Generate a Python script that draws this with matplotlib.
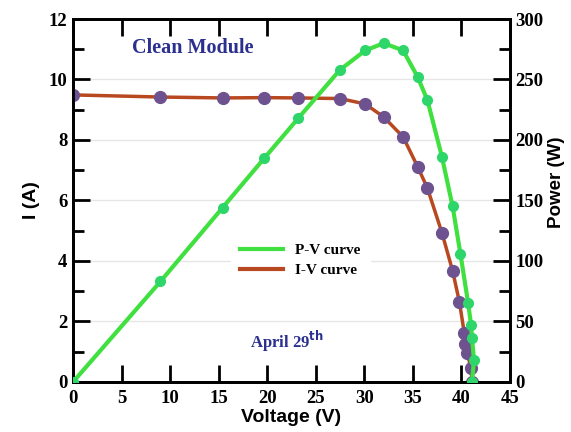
import numpy as np
import matplotlib.pyplot as plt
from matplotlib.ticker import MultipleLocator

# I-V curve
v_iv = [0, 9.0, 15.4, 19.7, 23.2, 27.5, 30.1, 32.0, 34.0, 35.5, 36.5, 38.0,
        39.1, 39.8, 40.3, 40.4, 40.6, 41.0, 41.1]
i_iv = [9.49, 9.42, 9.39, 9.40, 9.39, 9.37, 9.19, 8.76, 8.10, 7.11, 6.41, 4.93,
        3.67, 2.64, 1.62, 1.25, 0.95, 0.45, 0.0]

# P-V curve
v_pv = [0, 9.0, 15.4, 19.7, 23.2, 27.5, 30.1, 32.0, 34.0, 35.5, 36.5, 38.0,
        39.1, 39.9, 40.7, 41.0, 41.1, 41.3, 41.1]
p_pv = [0, 83, 144, 185, 218, 258, 274, 280, 274, 252, 233, 186,
        145, 106, 65, 47, 36, 18, 0]

SERIF = "Liberation Serif"
SANS = "Liberation Sans"

fig = plt.figure(figsize=(5.71, 4.32), dpi=100)
ax1 = fig.add_axes([0.128, 0.116, 0.765, 0.840])
ax2 = ax1.twinx()

ax1.plot(v_iv, i_iv, color="#b8481f", lw=2.5, marker="o", ms=8.5,
         mfc="#6e5290", mec="#6e5290", zorder=3, label="I-V curve")
ax2.plot(v_pv, p_pv, color="#3fe03f", lw=3, marker="o", ms=7,
         mfc="#2ed66a", mec="#2ed66a", zorder=3, label="P-V curve")

ax1.set_xlim(0, 45)
ax1.set_ylim(0, 12)
ax2.set_ylim(0, 300)

ax1.xaxis.set_major_locator(MultipleLocator(5))
ax1.yaxis.set_major_locator(MultipleLocator(2))
ax1.yaxis.set_minor_locator(MultipleLocator(1))
ax2.yaxis.set_major_locator(MultipleLocator(50))
ax2.yaxis.set_minor_locator(MultipleLocator(25))

ax1.grid(axis="y", which="major", color="#e6e6e6", lw=1)
ax1.set_axisbelow(True)

ax1.tick_params(axis="x", which="major", direction="in", length=12, width=2,
                top=True, pad=6)
ax1.tick_params(axis="y", which="major", direction="in", length=12, width=2, pad=4)
ax1.tick_params(axis="y", which="minor", direction="in", length=8, width=2)
ax2.tick_params(axis="y", which="major", direction="in", length=12, width=2, pad=4)
ax2.tick_params(axis="y", which="minor", direction="in", length=8, width=2)

for ax in (ax1, ax2):
    for sp in ax.spines.values():
        sp.set_linewidth(2)
    for lab in ax.get_xticklabels() + ax.get_yticklabels():
        lab.set_fontfamily(SERIF)
        lab.set_fontweight("bold")
        lab.set_fontsize(13.5)

ax1.set_xlabel("Voltage (V)", family=SANS, fontweight="bold", fontsize=14, labelpad=1)
ax1.set_ylabel("I (A)", family=SANS, fontweight="bold", fontsize=14, labelpad=6)
ax2.set_ylabel("Power (W)", family=SANS, fontweight="bold", fontsize=13.5)
ax2.yaxis.set_label_coords(1.088, 0.55)

ax1.text(0.135, 0.905, "Clean Module", transform=ax1.transAxes, family=SERIF,
         fontweight="bold", fontsize=14.5, color="#2b2f8f")
ax1.text(0.405, 0.095, r"April 29$^{\mathbf{th}}$", transform=ax1.transAxes,
         family=SERIF, fontweight="bold", fontsize=12, color="#2b2f8f")

h1, l1 = ax1.get_legend_handles_labels()
h2, l2 = ax2.get_legend_handles_labels()
leg_handles = [plt.Line2D([], [], color="#3fe03f", lw=3),
               plt.Line2D([], [], color="#b8481f", lw=3)]
leg = ax2.legend(leg_handles, [l2[0], l1[0]], loc="center",
                 bbox_to_anchor=(0.52, 0.335), frameon=True, framealpha=1,
                 edgecolor="white", fancybox=False, handlelength=2.8,
                 prop={"family": SERIF, "weight": "bold", "size": 11},
                 labelspacing=0.45, borderpad=0.6)

fig.savefig("out.png", dpi=100)
